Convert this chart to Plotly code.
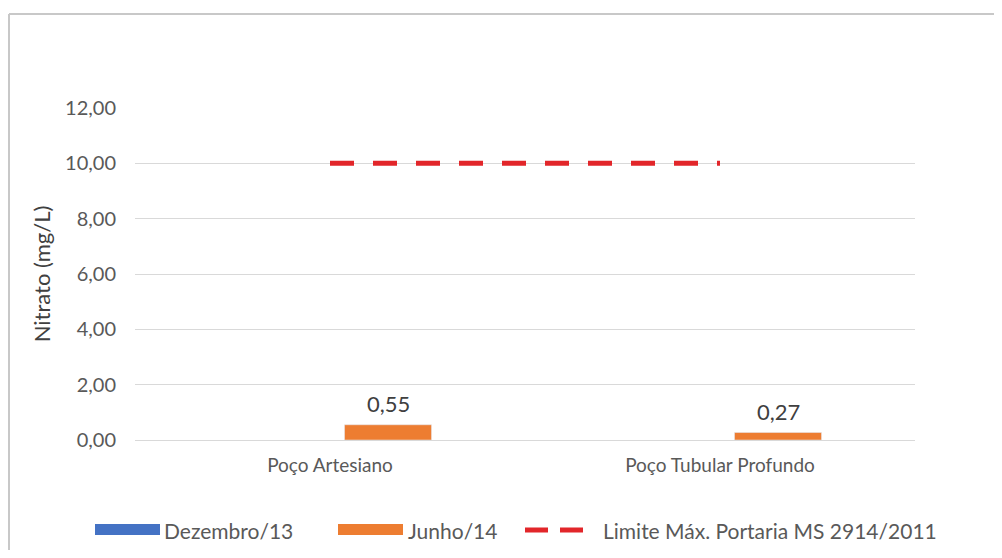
import plotly.graph_objects as go

# ---- data ----
categories = ["Poço Artesiano", "Poço Tubular Profundo"]
dezembro_13 = [None, None]
junho_14 = [0.55, 0.27]
limite_max = [10.0, 10.0]
series_names = ["Dezembro/13", "Junho/14", "Limite Máx. Portaria MS 2914/2011"]
y_ticks = [0, 2, 4, 6, 8, 10, 12]

BLUE = "#4472C4"
ORANGE = "#ED7D31"
RED = "#E2262A"
GRAY_TXT = "#595959"
FONT = "Lato"

# page offset of the plot div (default body margin)
OFF = 8
# plot-area geometry in screen pixels (reference), used for the hand-drawn legend
L, R, T, B = 135, 915, 108, 440
W, H = 1002 - 2 * OFF, 558 - 2 * OFF


def px(x):
    return (x - L) / (R - L)


def py(y):
    return (B - y) / (B - T)


fig = go.Figure()
fig.add_trace(go.Bar(x=categories, y=dezembro_13, name=series_names[0],
                     marker_color=BLUE, showlegend=False))
fig.add_trace(go.Bar(x=categories, y=junho_14, name=series_names[1],
                     marker_color=ORANGE, showlegend=False))
fig.add_trace(go.Scatter(x=categories, y=limite_max, name=series_names[2],
                         mode="lines", line=dict(color=RED, width=5, dash="24px,19px"),
                         showlegend=False))

annotations = []
for c, v in zip(categories, junho_14):
    annotations.append(dict(x=c, y=v, xref="x", yref="y", text=f"{v:.2f}".replace(".", ","),
                            showarrow=False, xshift=58.5, yanchor="bottom", yshift=6,
                            font=dict(family=FONT, size=22, color="#404040")))

# hand-drawn legend (wide swatches like the original)
shapes = []
leg_y = 530
shapes.append(dict(type="rect", xref="paper", yref="paper", x0=px(95), x1=px(160),
                   y0=py(leg_y + 5), y1=py(leg_y - 6), fillcolor=BLUE, line=dict(width=0)))
shapes.append(dict(type="rect", xref="paper", yref="paper", x0=px(338), x1=px(403),
                   y0=py(leg_y + 5), y1=py(leg_y - 6), fillcolor=ORANGE, line=dict(width=0)))
shapes.append(dict(type="line", xref="paper", yref="paper", x0=px(525), x1=px(584),
                   y0=py(leg_y), y1=py(leg_y), line=dict(color=RED, width=5, dash="23px,12px")))
for xt, name in zip([162, 406, 601], series_names):
    annotations.append(dict(x=px(xt), y=py(leg_y), xref="paper", yref="paper", text=name,
                            showarrow=False, xanchor="left", yanchor="middle",
                            font=dict(family=FONT, size=21, color=GRAY_TXT)))

# chart border: only the left and top edges fall inside the picture
border = dict(color="#C8C8C8", width=2)
shapes.append(dict(type="line", xref="paper", yref="paper", x0=px(9), x1=px(9),
                   y0=py(14), y1=py(560), line=border, layer="below"))
shapes.append(dict(type="line", xref="paper", yref="paper", x0=px(9), x1=px(1000),
                   y0=py(14), y1=py(14), line=border, layer="below"))

fig.update_layout(
    width=W, height=H,
    margin=dict(l=L - OFF, r=W - (R - OFF), t=T - OFF, b=H - (B - OFF)),
    paper_bgcolor="white", plot_bgcolor="white",
    separators=",.",
    barmode="group", bargap=0.405, bargroupgap=0.25,
    font=dict(family=FONT, color=GRAY_TXT, size=20),
    showlegend=False,
    annotations=annotations, shapes=shapes,
)
fig.update_yaxes(range=[0, 12], tickvals=y_ticks, tickformat=".2f",
                 showgrid=True, gridcolor="#D9D9D9", gridwidth=1,
                 zeroline=True, zerolinecolor="#D9D9D9", zerolinewidth=1,
                 showline=False, ticks="", ticklabelstandoff=18,
                 tickfont=dict(family=FONT, size=20, color=GRAY_TXT),
                 title=dict(text="Nitrato (mg/L)", standoff=8,
                            font=dict(family=FONT, size=22, color="#404040")))
fig.update_xaxes(showgrid=False, showline=False, ticks="", ticklabelstandoff=12,
                 tickfont=dict(family=FONT, size=19, color=GRAY_TXT))

fig.write_html("out.html")
